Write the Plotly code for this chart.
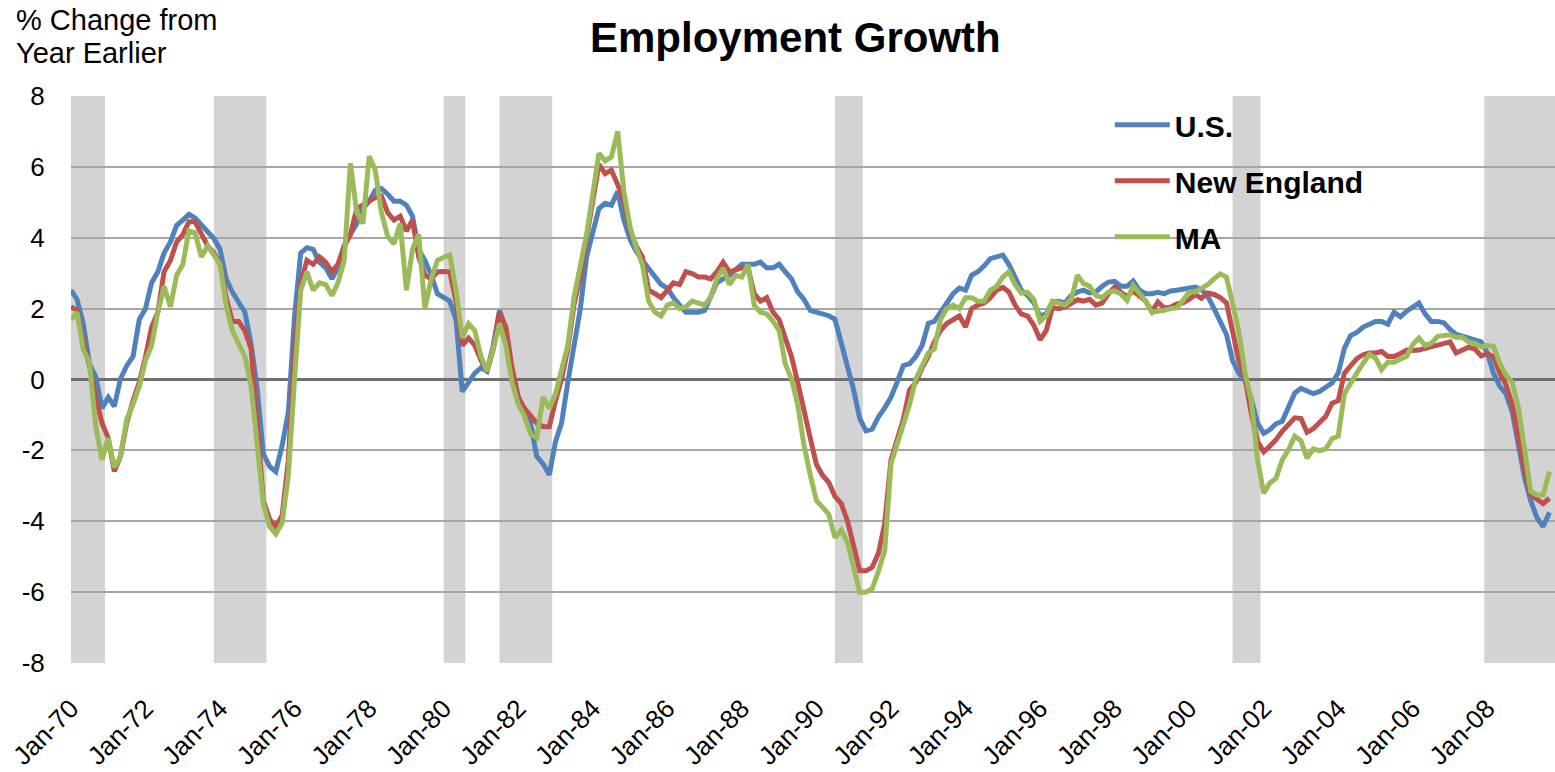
import pandas as pd
import plotly.graph_objects as go

# ---- data (bi-monthly readings: Jan, Mar, May, Jul, Sep, Nov) ----
dates = pd.date_range("1970-01-01", periods=239, freq="2MS")

us = [
    2.52, 2.26, 1.58, 0.44, 0.07, -0.81,    # 1970
    -0.5, -0.76, 0.02, 0.39, 0.65, 1.69,    # 1971
    2.0, 2.73, 3.04, 3.57, 3.88, 4.35,      # 1972
    4.5, 4.66, 4.56, 4.35, 4.14, 3.98,      # 1973
    3.67, 2.84, 2.47, 2.21, 1.9, 1.0,       # 1974
    -0.3, -2.1, -2.45, -2.6, -1.86, -0.92,  # 1975
    1.79, 3.57, 3.72, 3.67, 3.31, 3.15,     # 1976
    2.84, 3.15, 3.77, 4.09, 4.4, 4.82,      # 1977
    5.03, 5.34, 5.39, 5.23, 5.03, 5.03,     # 1978
    4.92, 4.61, 3.67, 3.36, 2.94, 2.42,     # 1979
    2.3, 2.21, 1.69, -0.34, -0.08, 0.18,    # 1980
    0.33, 0.23, 0.96, 1.95, 1.38, 0.23,     # 1981
    -0.5, -0.92, -1.23, -2.17, -2.38, -2.69,  # 1982
    -1.75, -1.23, -0.08, 0.86, 2.0, 3.46,   # 1983
    4.19, 4.82, 4.97, 4.92, 5.3, 4.5,       # 1984
    3.95, 3.62, 3.36, 3.15, 2.89, 2.68,     # 1985
    2.58, 2.31, 2.1, 1.9, 1.9, 1.9,         # 1986
    1.95, 2.31, 2.73, 2.84, 2.94, 3.1,      # 1987
    3.25, 3.25, 3.25, 3.31, 3.15, 3.15,     # 1988
    3.25, 3.04, 2.84, 2.47, 2.26, 1.95,     # 1989
    1.9, 1.85, 1.8, 1.7, 1.0, 0.4,          # 1990
    -0.3, -1.1, -1.45, -1.4, -1.05, -0.8,   # 1991
    -0.5, -0.08, 0.39, 0.44, 0.65, 0.96,    # 1992
    1.58, 1.64, 1.9, 2.16, 2.42, 2.58,      # 1993
    2.52, 2.94, 3.04, 3.2, 3.41, 3.46,      # 1994
    3.51, 3.25, 2.89, 2.52, 2.37, 2.16,     # 1995
    1.79, 1.85, 2.19, 2.21, 2.16, 2.37,     # 1996
    2.47, 2.52, 2.44, 2.47, 2.63, 2.75,     # 1997
    2.77, 2.63, 2.63, 2.78, 2.52, 2.42,     # 1998
    2.42, 2.46, 2.42, 2.5, 2.52, 2.54,      # 1999
    2.58, 2.61, 2.54, 2.35, 2.0, 1.64,      # 2000
    1.27, 0.54, 0.18, -0.03, -0.55, -1.23,  # 2001
    -1.52, -1.42, -1.25, -1.18, -0.76, -0.38,  # 2002
    -0.25, -0.34, -0.4, -0.34, -0.21, -0.1,  # 2003
    0.18, 0.88, 1.24, 1.33, 1.48, 1.58,     # 2004
    1.64, 1.64, 1.56, 1.9, 1.77, 1.93,      # 2005
    2.05, 2.16, 1.85, 1.64, 1.64, 1.6,      # 2006
    1.41, 1.27, 1.22, 1.17, 1.12, 1.06,     # 2007
    0.75, 0.18, -0.19, -0.4, -0.92, -1.91,  # 2008
    -2.79, -3.42, -3.9, -4.15, -3.75,       # 2009
]

new_england = [
    2.05, 1.95, 1.06, 0.39, -0.5, -1.23,
    -1.65, -2.59, -2.17, -1.23, -0.6, -0.08,
    0.65, 1.48, 1.9, 3.04, 3.36, 3.88,
    4.09, 4.45, 4.45, 4.09, 3.77, 3.57,
    3.25, 2.31, 1.64, 1.64, 1.38, 0.86,
    -1.5, -3.42, -3.94, -4.15, -3.84, -2.27,
    0.86, 2.73, 3.36, 3.25, 3.46, 3.31,
    3.04, 3.25, 3.77, 4.09, 4.82, 4.92,
    5.03, 5.13, 5.18, 4.71, 4.5, 4.61,
    4.19, 4.5, 3.46, 2.94, 2.84, 3.04,
    3.05, 3.04, 2.21, 0.96, 1.17, 0.96,
    0.54, 0.23, 0.86, 1.9, 1.48, 0.33,
    -0.5, -0.81, -1.02, -1.23, -1.33, -1.33,
    -0.6, 0.02, 0.86, 2.1, 2.94, 3.98,
    5.03, 6.07, 5.81, 5.91, 5.5, 5.03,
    4.2, 3.77, 3.46, 2.52, 2.42, 2.31,
    2.52, 2.73, 2.68, 3.04, 2.99, 2.89,
    2.89, 2.84, 3.04, 3.31, 3.04, 3.1,
    3.15, 3.15, 2.42, 2.21, 2.31, 1.9,
    1.69, 1.17, 0.65, -0.08, -0.81, -1.65,
    -2.4, -2.7, -2.9, -3.3, -3.5, -4.0,
    -4.7, -5.4, -5.4, -5.3, -4.9, -4.05,
    -2.27, -1.75, -1.13, -0.29, -0.08, 0.33,
    0.65, 1.06, 1.38, 1.58, 1.69, 1.79,
    1.48, 2.0, 2.1, 2.16, 2.31, 2.52,
    2.6, 2.47, 2.1, 1.85, 1.79, 1.53,
    1.12, 1.38, 2.03, 2.0, 2.05, 2.16,
    2.25, 2.21, 2.26, 2.1, 2.16, 2.42,
    2.61, 2.47, 2.34, 2.5, 2.37, 2.21,
    1.92, 2.19, 2.02, 2.04, 2.13, 2.16,
    2.26, 2.4, 2.29, 2.44, 2.4, 2.31,
    2.16, 1.38, 0.54, 0.07, -0.97, -1.75,
    -2.04, -1.88, -1.7, -1.46, -1.25, -1.08,
    -1.1, -1.49, -1.39, -1.2, -1.04, -0.67,
    -0.6, 0.18, 0.39, 0.59, 0.7, 0.75,
    0.75, 0.79, 0.65, 0.65, 0.73, 0.83,
    0.82, 0.83, 0.88, 0.92, 0.96, 1.0,
    1.06, 0.75, 0.83, 0.91, 0.86, 0.67,
    0.73, 0.65, 0.18, -0.14, -0.71, -1.65,
    -2.58, -3.26, -3.36, -3.5, -3.35,
]

ma = [
    1.69, 1.9, 0.85, 0.49, -1.33, -2.27,
    -1.65, -2.48, -2.17, -1.13, -0.7, -0.19,
    0.54, 0.96, 1.9, 2.63, 2.05, 2.94,
    3.25, 4.19, 4.14, 3.46, 3.77, 3.51,
    3.25, 2.1, 1.38, 1.01, 0.65, -0.19,
    -2.0, -3.52, -4.15, -4.36, -4.05, -2.69,
    0.02, 2.52, 3.04, 2.52, 2.73, 2.68,
    2.37, 2.73, 3.36, 6.1, 4.71, 4.4,
    6.3, 5.91, 4.71, 4.04, 3.83, 4.4,
    2.52, 3.67, 4.1, 2.0, 2.84, 3.36,
    3.45, 3.51, 2.52, 1.17, 1.58, 1.38,
    0.65, 0.23, 0.86, 1.58, 0.96, -0.08,
    -0.71, -1.02, -1.54, -1.65, -0.5, -0.81,
    -0.4, 0.23, 0.96, 2.31, 3.15, 4.09,
    5.23, 6.38, 6.17, 6.28, 7.0, 5.3,
    4.3, 3.72, 3.25, 2.21, 1.9, 1.79,
    2.1, 2.16, 2.0, 2.05, 2.21, 2.16,
    2.1, 2.31, 2.84, 3.15, 2.68, 2.94,
    2.89, 3.25, 2.1, 1.9, 1.85, 1.64,
    1.38, 0.44, 0.02, -0.71, -1.86, -2.69,
    -3.42, -3.6, -3.8, -4.46, -4.25, -4.6,
    -5.3, -6.0, -6.0, -5.9, -5.4, -4.83,
    -2.38, -1.86, -1.23, -0.71, 0.02, 0.39,
    0.75, 0.86, 1.69, 2.0, 2.1, 2.0,
    2.31, 2.31, 2.21, 2.21, 2.52, 2.63,
    2.89, 3.04, 2.68, 2.44, 2.46, 2.26,
    1.64, 1.79, 2.21, 2.16, 2.1, 2.26,
    2.94, 2.71, 2.63, 2.37, 2.31, 2.47,
    2.5, 2.42, 2.23, 2.65, 2.42, 2.21,
    1.9, 1.92, 1.95, 2.0, 2.02, 2.23,
    2.47, 2.47, 2.58, 2.68, 2.84, 2.98,
    2.89, 2.1, 1.38, 0.18, -0.6, -2.27,
    -3.21, -2.92, -2.79, -2.27, -1.98, -1.6,
    -1.73, -2.22, -1.96, -2.01, -1.96, -1.67,
    -1.6, -0.4, -0.14, 0.18, 0.46, 0.71,
    0.6, 0.28, 0.49, 0.49, 0.58, 0.65,
    0.99, 1.17, 0.96, 1.02, 1.22, 1.23,
    1.26, 1.19, 1.19, 1.06, 1.01, 0.92,
    0.96, 0.94, 0.46, 0.13, -0.08, -0.81,
    -2.06, -3.16, -3.26, -3.26, -2.6,
]

series_names = ["U.S.", "New England", "MA"]
series_colors = ["#4F81BD", "#C0504D", "#9BBB59"]

recession_start = ["1970-01-01", "1973-11-01", "1980-01-01", "1981-07-01",
                   "1990-07-01", "2001-03-01", "2007-12-01"]
recession_end = ["1970-11-30", "1975-03-31", "1980-07-31", "1982-11-30",
                 "1991-03-31", "2001-11-30", "2009-10-25"]

tick_years = list(range(1970, 2009, 2))
y_ticks = [-8, -6, -4, -2, 0, 2, 4, 6, 8]
y_ticktext = [str(v) for v in y_ticks]   # plain hyphen minus, as in the reference

FONT = "Liberation Sans, Arial, sans-serif"

fig = go.Figure()
for name, vals, col in zip(series_names, [us, new_england, ma], series_colors):
    fig.add_trace(go.Scatter(
        x=dates[:len(vals)], y=vals, mode="lines", name="<b>%s</b>" % name,
        legendgroup=name, line=dict(color=col, width=5),
    ))

for s, e in zip(recession_start, recession_end):
    fig.add_vrect(x0=s, x1=e, fillcolor="#d3d3d3", opacity=1,
                  line_width=0, layer="below")

fig.update_layout(
    width=1555, height=772,
    margin=dict(l=71, r=0, t=96, b=109),
    paper_bgcolor="white", plot_bgcolor="white",
    font=dict(family=FONT, color="black"),
    showlegend=True,
    legend=dict(x=0.70, y=0.995, xanchor="left", yanchor="top",
                bgcolor="rgba(0,0,0,0)", font=dict(size=30, color="black"),
                tracegroupgap=14, itemwidth=55),
    annotations=[
        dict(text="<b>Employment Growth</b>", xref="paper", yref="paper",
             x=(795 - 71) / 1484, y=(663 - 38) / 567, xanchor="center",
             yanchor="middle", showarrow=False, font=dict(size=42)),
        dict(text="% Change from", xref="paper", yref="paper",
             x=(14 - 71) / 1484, y=(663 - 20) / 567, xanchor="left",
             yanchor="middle", showarrow=False, font=dict(size=29)),
        dict(text="Year Earlier", xref="paper", yref="paper",
             x=(14 - 71) / 1484, y=(663 - 53) / 567, xanchor="left",
             yanchor="middle", showarrow=False, font=dict(size=29)),
    ],
)

fig.update_xaxes(
    type="date", range=["1970-01-01", "2009-10-25"],
    tickvals=[pd.Timestamp(year=y, month=1, day=1) for y in tick_years],
    tickformat="%b-%y", tickangle=-45, tickfont=dict(size=26),
    showgrid=False, zeroline=False, showline=False,
    ticks="outside", ticklen=19, tickcolor="rgba(0,0,0,0)",
)
fig.update_yaxes(
    range=[-8, 8], tickvals=y_ticks, ticktext=y_ticktext, tickfont=dict(size=26),
    showgrid=True, gridcolor="#a6a6a6", gridwidth=1.5,
    zeroline=True, zerolinecolor="#6f6f6f", zerolinewidth=3,
    showline=False, ticks="outside", ticklen=20, tickcolor="rgba(0,0,0,0)",
)

fig.write_html("out.html",
               config={"displayModeBar": False},
               post_script="document.body.style.margin='0px';"
                           "document.body.style.overflow='hidden';")
